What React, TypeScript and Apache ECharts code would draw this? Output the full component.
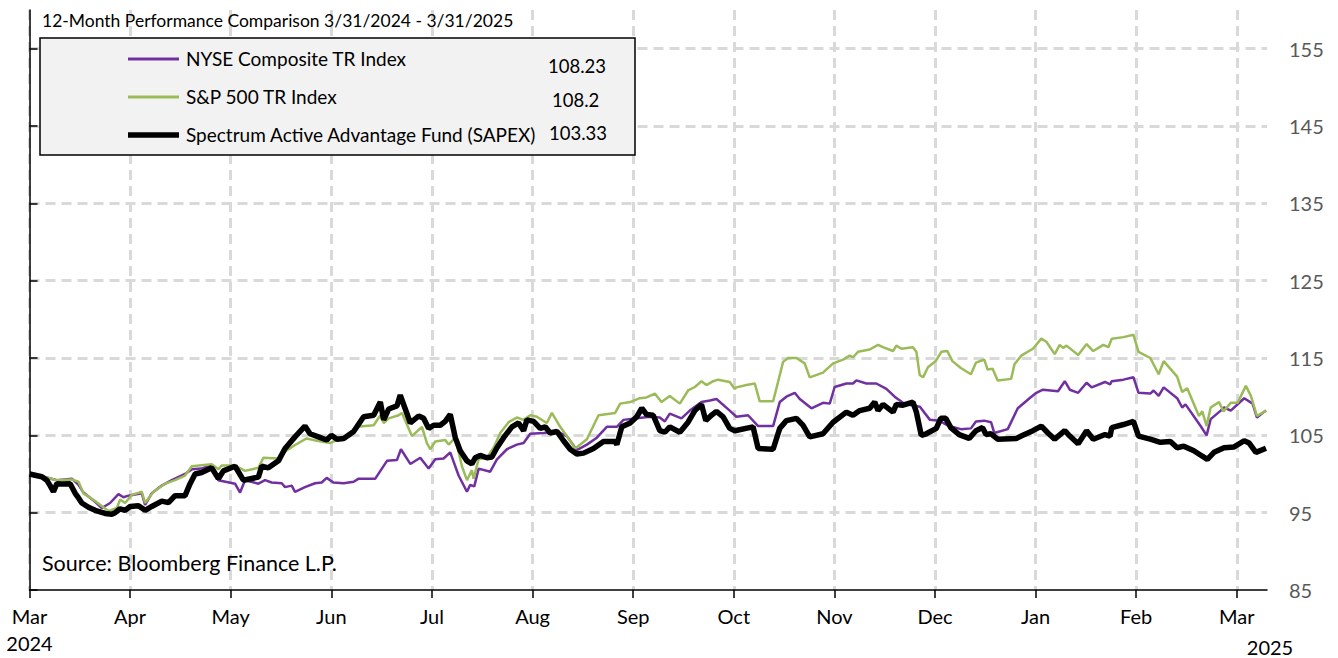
import React, { useEffect, useRef } from "react";
import * as echarts from "echarts";

// x = months since the first axis tick (Mar 2024); y = index value (start = 100)
const monthLabels = ["Mar", "Apr", "May", "Jun", "Jul", "Aug", "Sep", "Oct", "Nov", "Dec", "Jan", "Feb", "Mar"];
const firstYear = "2024";
const lastYear = "2025";
const titleText = "12-Month Performance Comparison 3/31/2024 - 3/31/2025";
const sourceText = "Source: Bloomberg Finance L.P.";
const seriesNames = ["NYSE Composite TR Index", "S&P 500 TR Index", "Spectrum Active Advantage Fund (SAPEX)"];
const endValues = ["108.23", "108.2", "103.33"];

const nyse: number[][] = [
  [0, 100], [0.123, 99.7], [0.272, 99.2], [0.421, 99.4], [0.487, 98.6], [0.536, 97.6], [0.652, 96.4], [0.719, 95.6],
  [0.801, 96.25], [0.884, 97.4], [0.934, 97.0], [0.983, 97.2], [1.116, 97.5], [1.149, 96.0], [1.215, 97.5], [1.315, 98.5],
  [1.414, 99.2], [1.546, 100.0], [1.613, 100.6], [1.712, 100.7], [1.811, 101.2], [1.877, 99.2], [2.043, 98.75], [2.093, 97.6],
  [2.142, 99.2], [2.275, 98.75], [2.341, 99.2], [2.407, 98.9], [2.507, 98.8], [2.54, 98.3], [2.606, 98.5], [2.639, 97.7],
  [2.738, 98.3], [2.838, 98.8], [2.904, 98.9], [2.954, 99.5], [3.02, 98.9], [3.123, 98.8], [3.222, 99.0], [3.272, 99.4],
  [3.437, 99.4], [3.553, 101.7], [3.652, 101.8], [3.692, 103.2], [3.785, 101.3], [3.884, 102.1], [3.967, 100.7], [4.033, 101.9],
  [4.116, 102.0], [4.182, 102.8], [4.265, 99.8], [4.348, 97.7], [4.381, 98.6], [4.421, 98.4], [4.464, 100.7], [4.579, 100.3],
  [4.646, 101.9], [4.745, 103.2], [4.844, 103.8], [4.911, 104.0], [4.977, 105.2], [5.109, 105.3], [5.242, 105.5], [5.341, 104.9],
  [5.44, 103.1], [5.54, 103.8], [5.639, 104.7], [5.738, 106.1], [5.838, 106.1], [5.904, 107.0], [6.036, 107.2], [6.166, 107.4],
  [6.265, 107.3], [6.315, 106.8], [6.364, 107.8], [6.48, 107.2], [6.563, 108.2], [6.679, 109.3], [6.762, 109.5], [6.828, 109.7],
  [6.96, 108.2], [7.026, 107.4], [7.142, 107.6], [7.242, 106.2], [7.391, 106.2], [7.457, 109.3], [7.523, 110.0], [7.606, 110.5],
  [7.656, 109.7], [7.772, 108.5], [7.887, 109.2], [7.954, 109.1], [8.003, 111.25], [8.119, 111.7], [8.185, 111.7], [8.219, 112.1],
  [8.318, 111.7], [8.417, 111.7], [8.517, 111.0], [8.599, 110.0], [8.682, 109.2], [8.765, 108.9], [8.85, 108.7], [8.95, 107.0],
  [9.04, 106.9], [9.14, 106.2], [9.257, 105.8], [9.357, 105.9], [9.407, 106.8], [9.49, 106.9], [9.557, 106.7], [9.59, 105.3],
  [9.723, 105.8], [9.823, 108.5], [9.94, 109.8], [10.007, 110.5], [10.073, 110.9], [10.223, 110.7], [10.29, 112.0], [10.34, 110.9],
  [10.423, 110.5], [10.507, 111.8], [10.557, 111.2], [10.69, 111.9], [10.74, 111.6], [10.757, 112.0], [10.873, 112.2], [10.973, 112.5],
  [11.023, 110.5], [11.14, 110.4], [11.173, 110.8], [11.223, 110.1], [11.273, 111.2], [11.407, 109.8], [11.457, 108.6], [11.49, 109.0],
  [11.64, 106.2], [11.7, 105.0], [11.74, 107.1], [11.84, 108.2], [11.873, 108.6], [11.94, 108.2], [12.073, 109.8], [12.157, 109.1],
  [12.2, 107.3], [12.29, 108.23],
];

const sp500: number[][] = [
  [0, 100], [0.123, 99.7], [0.272, 99.2], [0.421, 99.3], [0.487, 99.0], [0.536, 97.5], [0.652, 96.5], [0.785, 95.2],
  [0.868, 95.6], [0.901, 96.7], [0.95, 96.25], [1.017, 97.3], [1.116, 97.7], [1.149, 96.25], [1.232, 97.7], [1.348, 98.75],
  [1.447, 99.2], [1.546, 99.8], [1.613, 101.0], [1.811, 101.25], [1.877, 100.6], [1.911, 101.1], [2.043, 101.1], [2.142, 100.4],
  [2.275, 100.8], [2.325, 102.1], [2.474, 102.0], [2.54, 102.9], [2.639, 103.75], [2.755, 104.6], [2.871, 104.25], [2.987, 104.0],
  [3.056, 104.4], [3.189, 104.9], [3.255, 106.1], [3.421, 106.3], [3.487, 107.6], [3.52, 106.6], [3.57, 107.2], [3.669, 107.6],
  [3.702, 107.9], [3.801, 104.9], [3.901, 106.1], [3.95, 104.0], [3.983, 103.2], [4.033, 104.2], [4.132, 104.4], [4.166, 103.8],
  [4.232, 104.7], [4.298, 101.0], [4.348, 99.2], [4.397, 100.5], [4.414, 99.4], [4.464, 101.9], [4.546, 102.1], [4.613, 103.4],
  [4.679, 105.3], [4.762, 106.7], [4.844, 107.3], [4.911, 107.0], [4.977, 107.6], [5.043, 107.4], [5.142, 106.6], [5.192, 107.9],
  [5.275, 106.1], [5.341, 104.9], [5.424, 103.3], [5.54, 104.5], [5.656, 107.6], [5.821, 107.9], [5.871, 109.1], [5.97, 109.3],
  [6.066, 109.8], [6.132, 109.9], [6.215, 110.4], [6.281, 109.3], [6.364, 110.1], [6.464, 109.1], [6.546, 110.8], [6.613, 111.25],
  [6.679, 112.0], [6.728, 111.5], [6.795, 112.0], [6.844, 112.2], [6.96, 111.9], [7.01, 111.0], [7.026, 111.2], [7.126, 111.5],
  [7.209, 111.7], [7.258, 109.4], [7.391, 109.4], [7.44, 111.9], [7.49, 114.5], [7.54, 115.0], [7.623, 115.0], [7.705, 114.3],
  [7.755, 112.5], [7.887, 113.1], [7.987, 114.3], [8.086, 114.8], [8.152, 115.3], [8.185, 115.1], [8.235, 115.8], [8.351, 116.1],
  [8.434, 116.7], [8.483, 116.4], [8.583, 115.9], [8.616, 116.6], [8.666, 116.2], [8.781, 116.4], [8.815, 115.8], [8.848, 112.8],
  [8.881, 112.5], [8.93, 113.8], [9.007, 114.6], [9.063, 115.8], [9.123, 115.9], [9.173, 114.6], [9.257, 113.7], [9.357, 112.9],
  [9.407, 114.4], [9.49, 114.8], [9.523, 113.5], [9.573, 113.6], [9.623, 112.1], [9.757, 112.3], [9.79, 114.2], [9.857, 115.3],
  [9.973, 116.2], [10.057, 117.5], [10.107, 117.1], [10.19, 115.5], [10.24, 116.7], [10.273, 116.3], [10.307, 116.6], [10.423, 115.4],
  [10.507, 116.8], [10.573, 115.9], [10.673, 116.7], [10.723, 116.4], [10.757, 117.5], [10.873, 117.7], [10.973, 118.0], [11.023, 115.8],
  [11.14, 115.0], [11.223, 112.9], [11.273, 114.6], [11.407, 112.6], [11.457, 110.6], [11.507, 111.1], [11.623, 107.5], [11.657, 108.1],
  [11.7, 106.2], [11.74, 108.6], [11.823, 109.3], [11.867, 108.1], [11.94, 109.2], [12.007, 109.2], [12.09, 111.4], [12.14, 110.1],
  [12.2, 107.5], [12.29, 108.2],
];

const sapex: number[][] = [
  [0, 100], [0.123, 99.65], [0.172, 99.2], [0.205, 98.5], [0.238, 97.7], [0.272, 98.75], [0.321, 98.7], [0.404, 98.75],
  [0.454, 97.5], [0.487, 96.9], [0.52, 96.25], [0.586, 95.7], [0.652, 95.3], [0.752, 94.9], [0.818, 94.8], [0.851, 95.0],
  [0.901, 95.5], [0.95, 95.3], [1.0, 95.8], [1.083, 95.9], [1.149, 95.3], [1.215, 95.8], [1.315, 96.5], [1.381, 96.3],
  [1.447, 97.2], [1.546, 97.2], [1.596, 98.75], [1.646, 100.0], [1.712, 100.2], [1.811, 100.8], [1.877, 99.4], [1.927, 100.4],
  [2.043, 101.0], [2.126, 99.2], [2.275, 99.6], [2.308, 101.0], [2.374, 100.8], [2.474, 101.7], [2.54, 103.3], [2.639, 104.8],
  [2.738, 106.2], [2.788, 105.2], [2.871, 104.8], [2.954, 104.4], [3.0, 105.0], [3.056, 104.5], [3.123, 104.6], [3.222, 105.5],
  [3.321, 107.4], [3.421, 107.6], [3.487, 109.3], [3.52, 107.0], [3.57, 108.4], [3.652, 108.8], [3.685, 110.2], [3.735, 108.4],
  [3.785, 106.6], [3.868, 107.5], [3.917, 107.2], [3.967, 105.9], [4.017, 106.3], [4.083, 106.3], [4.132, 106.8], [4.182, 107.7],
  [4.232, 104.7], [4.281, 103.0], [4.348, 101.7], [4.397, 101.3], [4.43, 102.1], [4.48, 102.4], [4.546, 102.1], [4.596, 102.2],
  [4.646, 103.4], [4.712, 104.7], [4.795, 106.1], [4.861, 106.6], [4.911, 105.6], [4.944, 107.0], [5.01, 106.8], [5.076, 105.9],
  [5.126, 106.1], [5.175, 105.3], [5.242, 105.5], [5.308, 104.3], [5.374, 103.2], [5.44, 102.6], [5.507, 102.7], [5.606, 103.3],
  [5.705, 104.2], [5.821, 104.2], [5.838, 103.8], [5.887, 106.1], [5.97, 106.6], [6.036, 107.4], [6.086, 108.5], [6.132, 107.7],
  [6.199, 107.6], [6.265, 105.6], [6.315, 105.4], [6.364, 106.1], [6.464, 105.4], [6.546, 106.7], [6.613, 108.2], [6.679, 109.0],
  [6.722, 106.9], [6.778, 107.6], [6.828, 108.1], [6.894, 107.4], [6.96, 105.9], [7.01, 105.6], [7.192, 106.1], [7.242, 103.3],
  [7.391, 103.2], [7.457, 105.9], [7.523, 106.9], [7.623, 107.2], [7.689, 106.3], [7.755, 104.8], [7.887, 105.2], [7.987, 106.7],
  [8.119, 108.0], [8.185, 107.6], [8.252, 108.2], [8.351, 108.5], [8.401, 109.3], [8.434, 108.2], [8.483, 109.0], [8.583, 108.0],
  [8.616, 109.0], [8.682, 108.9], [8.781, 109.3], [8.815, 108.0], [8.864, 105.0], [8.914, 105.2], [9.013, 105.9], [9.057, 107.2],
  [9.107, 107.2], [9.157, 106.0], [9.24, 105.1], [9.34, 104.6], [9.407, 105.6], [9.473, 106.0], [9.507, 105.1], [9.557, 105.2],
  [9.623, 104.5], [9.807, 104.6], [9.873, 105.0], [9.973, 105.6], [10.057, 106.2], [10.123, 105.3], [10.19, 104.5], [10.29, 105.6],
  [10.34, 104.9], [10.423, 103.9], [10.507, 105.6], [10.573, 104.5], [10.69, 105.1], [10.74, 104.9], [10.757, 106.0], [10.873, 106.4],
  [10.973, 106.8], [11.023, 104.9], [11.14, 104.5], [11.24, 104.1], [11.34, 104.2], [11.407, 103.4], [11.473, 103.6], [11.573, 103.0],
  [11.657, 102.3], [11.707, 101.9], [11.773, 102.8], [11.873, 103.4], [11.973, 103.5], [12.073, 104.3], [12.123, 104.0], [12.19, 102.8],
  [12.29, 103.33],
];

// y axis runs 85..160 with ticks every 10 from 85; shifted by 5 so ECharts counts ticks from a multiple of the interval
const Y_SHIFT = 5;
const Y_MIN = 85;
const Y_MAX = 160;
const X_MAX = 12.3;

const colors = ["#7030a0", "#9bbb59", "#000000"];
const FONT = "Lato, 'Open Sans', sans-serif";

export default function App() {
  const ref = useRef<HTMLDivElement>(null);
  useEffect(() => {
    document.body.style.margin = "0";
    const chart = echarts.init(ref.current!, null, { renderer: "svg" });
    const shift = (pts: number[][]) => pts.map(([x, y]) => [x, y - Y_SHIFT]);
    const grid = { color: "#d9d9d9", width: 3, type: [10, 6] as any };
    const legendText = (text: string, x: number, y: number, size: number) => ({
      type: "text", x, y, z: 21,
      style: { text, fontSize: size, fontFamily: FONT, fill: "#000", textVerticalAlign: "middle" },
    });
    chart.setOption({
      animation: false,
      backgroundColor: "#ffffff",
      grid: { left: 29.5, right: 71, top: 10, bottom: 68 },
      xAxis: {
        type: "value",
        min: 0,
        max: X_MAX,
        interval: 1,
        axisLine: { show: true, onZero: false, lineStyle: { color: "#000", width: 1.5 } },
        axisTick: { show: true, length: 8, lineStyle: { color: "#000", width: 1.5 } },
        axisLabel: {
          fontFamily: FONT,
          fontSize: 20,
          color: "#000",
          margin: 12,
          lineHeight: 27,
          showMaxLabel: false,
          formatter: (v: number) => {
            const i = Math.round(v);
            if (Math.abs(v - i) > 0.01) return "";
            if (i === 0) return monthLabels[0] + "\n" + firstYear;
            return monthLabels[i] ?? "";
          },
        },
        splitLine: { show: true, showMaxLine: false, lineStyle: grid },
      },
      yAxis: {
        type: "value",
        position: "right",
        min: Y_MIN - Y_SHIFT,
        max: Y_MAX - Y_SHIFT,
        interval: 10,
        axisLine: { show: true, lineStyle: { color: "#000", width: 1.5 } },
        axisTick: { show: true, length: 8, lineStyle: { color: "#000", width: 1.5 } },
        axisLabel: {
          fontFamily: FONT,
          fontSize: 20,
          color: "#595959",
          margin: 22,
          showMaxLabel: false,
          formatter: (v: number) => String(Math.round(v + Y_SHIFT)),
        },
        splitLine: { show: true, showMinLine: false, showMaxLine: false, lineStyle: grid },
      },
      series: [
        { name: seriesNames[0], type: "line", data: shift(nyse), showSymbol: false, symbol: "none", lineStyle: { color: colors[0], width: 2.5 }, itemStyle: { color: colors[0] }, z: 3 },
        { name: seriesNames[1], type: "line", data: shift(sp500), showSymbol: false, symbol: "none", lineStyle: { color: colors[1], width: 2.5 }, itemStyle: { color: colors[1] }, z: 4 },
        { name: seriesNames[2], type: "line", data: shift(sapex), showSymbol: false, symbol: "none", lineStyle: { color: colors[2], width: 5.5 }, itemStyle: { color: colors[2] }, z: 5 },
      ],
      graphic: [
        { type: "text", x: 42, y: 20, z: 20, style: { text: titleText, fontSize: 17.5, fontFamily: FONT, fill: "#000", textVerticalAlign: "middle" } },
        { type: "rect", z: 20, shape: { x: 40, y: 38, width: 595, height: 117 }, style: { fill: "#f2f2f2", stroke: "#000", lineWidth: 1.5 } },
        { type: "line", z: 21, shape: { x1: 128, y1: 59, x2: 179, y2: 59 }, style: { stroke: colors[0], lineWidth: 3 } },
        { type: "line", z: 21, shape: { x1: 128, y1: 97, x2: 179, y2: 97 }, style: { stroke: colors[1], lineWidth: 3 } },
        { type: "line", z: 21, shape: { x1: 128, y1: 135, x2: 179, y2: 135 }, style: { stroke: colors[2], lineWidth: 5.5 } },
        legendText(seriesNames[0], 186, 58, 19),
        legendText(seriesNames[1], 186, 96, 19),
        legendText(seriesNames[2], 186, 134, 19),
        legendText(endValues[0], 548, 66, 18.5),
        legendText(endValues[1], 552, 100, 18.5),
        legendText(endValues[2], 549, 133, 18.5),
        legendText(sourceText, 42, 563, 21.5),
        { type: "text", x: 1270, y: 647, z: 21, style: { text: lastYear, fontSize: 20, fontFamily: FONT, fill: "#000", textAlign: "center", textVerticalAlign: "middle" } },
      ],
    });
    return () => chart.dispose();
  }, []);
  return <div ref={ref} style={{ width: 1338, height: 658 }} />;
}
